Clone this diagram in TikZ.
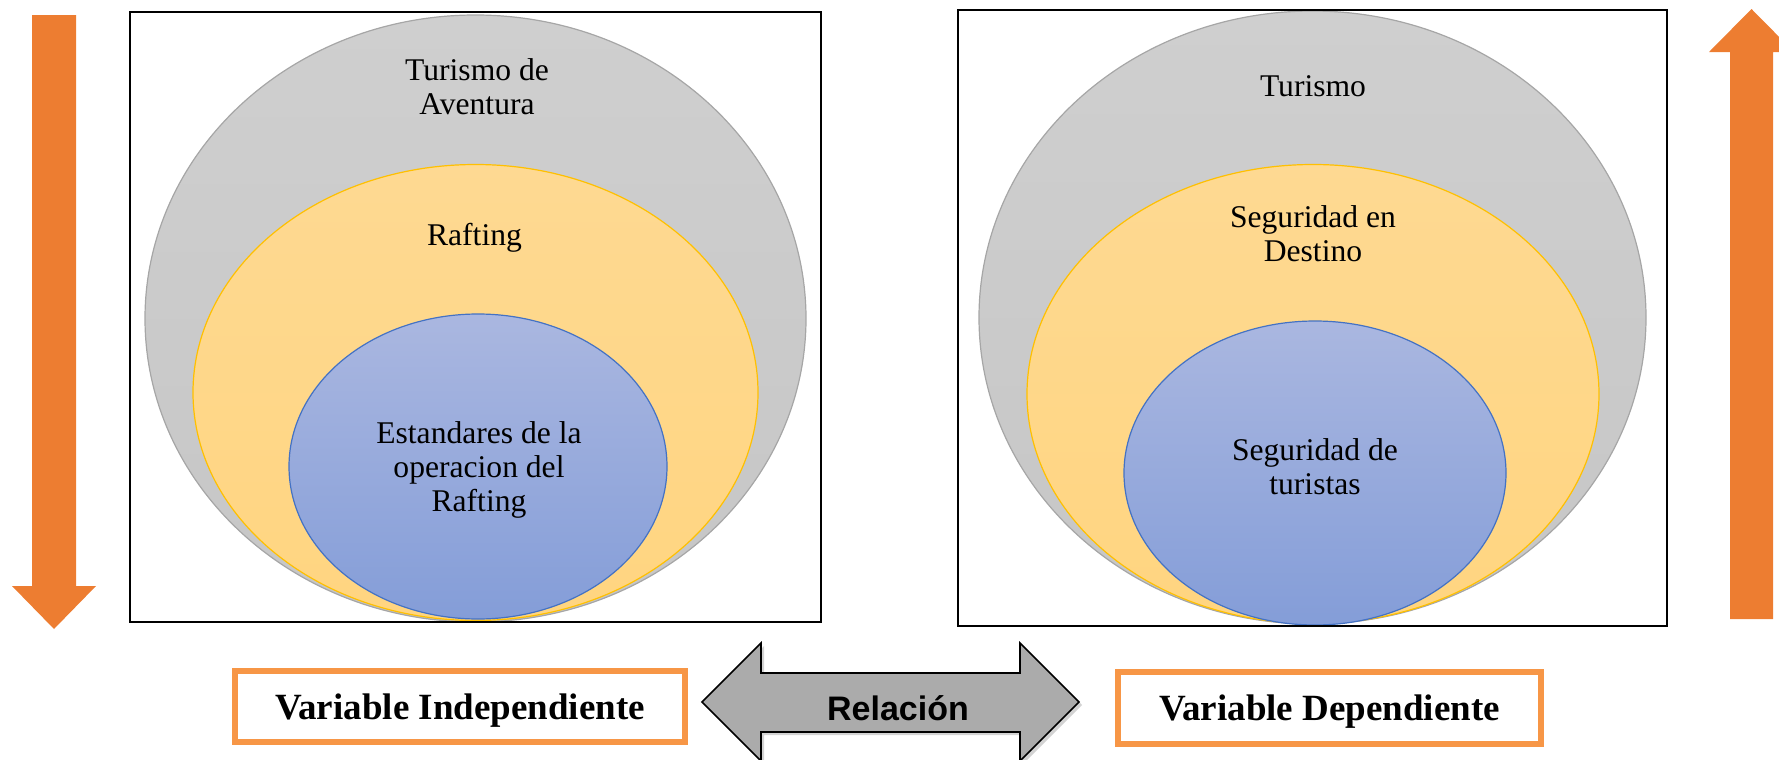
\documentclass[tikz,border=0pt]{standalone}
\usepackage{fontspec}
\setmainfont{Liberation Serif}
\newfontfamily\relfont{Liberation Sans}
\usetikzlibrary{shapes.geometric, shadows}
\definecolor{grisclaro}{RGB}{207,207,207}
\definecolor{grismedio}{RGB}{198,198,198}
\definecolor{grisborde}{RGB}{166,166,166}
\definecolor{amarillo}{RGB}{254,217,146}
\definecolor{amarillobajo}{RGB}{255,213,128}
\definecolor{amarilloborde}{RGB}{255,192,0}
\definecolor{azularriba}{RGB}{170,183,224}
\definecolor{azulabajo}{RGB}{132,157,216}
\definecolor{azulborde}{RGB}{68,114,196}
\definecolor{naranja}{RGB}{237,125,49}
\definecolor{naranjamarco}{RGB}{247,150,70}
\definecolor{grisflecha}{RGB}{171,171,171}

\begin{document}
\begin{tikzpicture}[
        x=0.5pt, y=-0.5pt,
        capa/.style={ellipse, inner sep=0pt, line width=0.6pt},
        capagris/.style={capa, draw=grisborde, top color=grisclaro, bottom color=grismedio},
        capaamarilla/.style={capa, draw=amarilloborde, top color=amarillo, bottom color=amarillobajo},
        capaazul/.style={capa, draw=azulborde, top color=azularriba, bottom color=azulabajo},
        etiqueta/.style={align=center, font=\fontsize{15.8}{17}\selectfont},
        marco/.style={draw=black, line width=1.4pt},
        cajavar/.style={draw=naranjamarco, line width=3pt, fill=white, text depth=0pt, inner sep=2pt, font=\bfseries\fontsize{18.5}{22}\selectfont},
        flecha/.style={fill=naranja}
    ]
        \useasboundingbox (0,0) rectangle (1779,760);

        % variable independiente
        \node[capagris, minimum width=330.5pt, minimum height=303.5pt] (aventura) at (475.5,318.5) {};
        \node[capaamarilla, minimum width=282.5pt, minimum height=228pt] (rafting) at (475.5,392.5) {};
        \node[capaazul, minimum width=189pt, minimum height=152.5pt] (estandares) at (478,466.5) {};
        \node[etiqueta] (taventura) at (477,86.2) {Turismo de\\Aventura};
        \node[etiqueta, anchor=base] (trafting) at (474.5,245) {Rafting};
        \node[etiqueta] (testandares) at (479,469.7) {Estandares de la\\operacion del\\Rafting};
        \draw[marco] (130,12) rectangle (821,622);

        % variable dependiente
        \node[capagris, minimum width=333.5pt, minimum height=306.5pt] (turismo) at (1312.5,317.5) {};
        \node[capaamarilla, minimum width=286pt, minimum height=229.5pt] (destino) at (1313,394) {};
        \node[capaazul, minimum width=191pt, minimum height=152pt] (turistas) at (1315,473) {};
        \node[etiqueta, anchor=base] (tturismo) at (1313,96.7) {Turismo};
        \node[etiqueta] (tdestino) at (1313,233.2) {Seguridad en\\Destino};
        \node[etiqueta] (tturistas) at (1315,466.2) {Seguridad de\\turistas};
        \draw[marco] (958,10) rectangle (1667,626);

        % flechas laterales
        \fill[flecha] (32,15) -- (76,15) -- (76,586) -- (96,586) -- (54,629) -- (12,586) -- (32,586) -- cycle;
        \fill[flecha] (1730,619) -- (1773,619) -- (1773,52) -- (1794,52) -- (1751.5,9) -- (1709,52) -- (1730,52) -- cycle;

        % relacion
        \draw[fill=grisflecha, line width=0.8pt, line join=miter, drop shadow={opacity=0.35, shadow xshift=1.5pt, shadow yshift=-1.5pt}]
            (702,702) -- (761,643) -- (761,673) -- (1020,673) -- (1020,643) -- (1079,702)
            -- (1020,761) -- (1020,732) -- (761,732) -- (761,761) -- cycle;
        \node[anchor=base, font=\relfont\bfseries\fontsize{17}{20}\selectfont] (relacion) at (898,720) {Relación};

        \node[cajavar, minimum width=225pt, minimum height=35.5pt] (indep) at (460,706.5) {Variable Independiente};
        \node[cajavar, minimum width=211.5pt, minimum height=36pt] (dep) at (1329.5,708) {Variable Dependiente};
    \end{tikzpicture}
\end{document}
